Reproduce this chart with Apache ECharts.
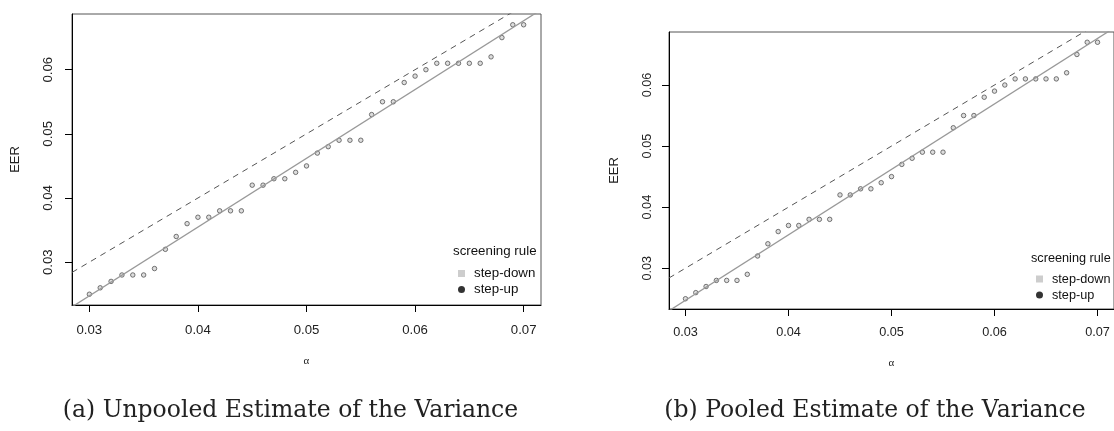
<!DOCTYPE html>
<html>
<head>
<meta charset="utf-8">
<script src="https://cdn.jsdelivr.net/npm/echarts@6/dist/echarts.min.js"></script>
<style>html,body{margin:0;padding:0;background:#fff;}#c{width:1114px;height:431px;}</style>
</head>
<body>
<div id="c"></div>
<script>
// ---- data ----
const alphaValues = [0.030,0.031,0.032,0.033,0.034,0.035,0.036,0.037,0.038,0.039,0.040,0.041,0.042,0.043,0.044,0.045,0.046,0.047,0.048,0.049,0.050,0.051,0.052,0.053,0.054,0.055,0.056,0.057,0.058,0.059,0.060,0.061,0.062,0.063,0.064,0.065,0.066,0.067,0.068,0.069,0.070];
const eerUnpooled = [0.025,0.026,0.027,0.028,0.028,0.028,0.029,0.032,0.034,0.036,0.037,0.037,0.038,0.038,0.038,0.042,0.042,0.043,0.043,0.044,0.045,0.047,0.048,0.049,0.049,0.049,0.053,0.055,0.055,0.058,0.059,0.060,0.061,0.061,0.061,0.061,0.061,0.062,0.065,0.067,0.067];
const eerPooled   = [0.025,0.026,0.027,0.028,0.028,0.028,0.029,0.032,0.034,0.036,0.037,0.037,0.038,0.038,0.038,0.042,0.042,0.043,0.043,0.044,0.045,0.047,0.048,0.049,0.049,0.049,0.053,0.055,0.055,0.058,0.059,0.060,0.061,0.061,0.061,0.061,0.061,0.062,0.065,0.067,0.067];
const fitLineX = [0.0284, 0.0716];
const fitLineY = [0.02303, 0.06934];
const refLineX = [0.0284, 0.0716];
const refLineY = [0.0284, 0.0716];
const xTicks = [0.03, 0.04, 0.05, 0.06, 0.07];
const yTicks = [0.03, 0.04, 0.05, 0.06];
const xRange = [0.0284, 0.0716];
const yRange = [0.02332, 0.06868];
const legendTitle = 'screening rule';
const legendNames = ['step-down', 'step-up'];
const captions = ['(a) Unpooled Estimate of the Variance', '(b) Pooled Estimate of the Variance'];
const xName = 'α';
const yName = 'EER';

// ---- build ----
const SANS = '"Liberation Sans", Arial, sans-serif';
const pts = ys => alphaValues.map((x, i) => [x, ys[i]]);
const pairs = (xs, ys) => xs.map((x, i) => [x, ys[i]]);

const panels = [
  {grid:{left:72, top:14, width:469, height:291}, tick:13.2, lab:13.3, xm:18.5, ym:17, yGap:50, xGap:51,
   leg:{left:453, top:260.5}, title:{x:453, y:252.7}, data:eerUnpooled},
  {grid:{left:669, top:32, width:446.5, height:277}, tick:12.7, lab:12.7, xm:17, ym:15.5, yGap:48, xGap:49,
   leg:{left:1031, top:266}, title:{x:1031, y:260}, data:eerPooled}
];

const grids = [], xAxes = [], yAxes = [], series = [], legends = [], graphics = [];
panels.forEach((p, k) => {
  grids.push(Object.assign({show:true, borderColor:'#555', borderWidth:1, backgroundColor:'transparent'}, p.grid));
  xAxes.push({type:'value', gridIndex:k, min:xRange[0], max:xRange[1],
    name:xName, nameLocation:'middle', nameGap:p.xGap,
    nameTextStyle:{fontFamily:'"Liberation Serif", serif', fontSize:11, color:'#222'},
    axisLine:{show:true, onZero:false, lineStyle:{color:'#000', width:1}},
    axisTick:{show:true, inside:false, length:7, customValues:xTicks, lineStyle:{color:'#000'}},
    axisLabel:{customValues:xTicks, margin:p.xm, fontFamily:SANS, fontSize:p.tick, color:'#222', formatter:v=>v.toFixed(2)},
    splitLine:{show:false}});
  yAxes.push({type:'value', gridIndex:k, min:yRange[0], max:yRange[1],
    name:yName, nameLocation:'middle', nameGap:p.yGap, nameRotate:90,
    nameTextStyle:{fontFamily:SANS, fontSize:13, color:'#222'},
    axisLine:{show:true, onZero:false, lineStyle:{color:'#000', width:1}},
    axisTick:{show:true, inside:false, length:7, customValues:yTicks, lineStyle:{color:'#000'}},
    axisLabel:{customValues:yTicks, rotate:90, margin:p.ym, fontFamily:SANS, fontSize:p.tick, color:'#222', formatter:v=>v.toFixed(2)},
    splitLine:{show:false}});
  series.push({type:'line', xAxisIndex:k, yAxisIndex:k, data:pairs(refLineX, refLineY), symbol:'none', clip:true, silent:true,
    lineStyle:{color:'#555', width:1, type:[6,5]}});
  series.push({type:'line', xAxisIndex:k, yAxisIndex:k, data:pairs(fitLineX, fitLineY), symbol:'none', clip:true, silent:true,
    lineStyle:{color:'#999', width:1.3}});
  series.push({type:'scatter', name:legendNames[1], xAxisIndex:k, yAxisIndex:k, data:pts(p.data), symbol:'circle', symbolSize:4.5,
    itemStyle:{color:'#d4d4d4', borderColor:'#444', borderWidth:0.9}});
  series.push({type:'scatter', name:legendNames[0], xAxisIndex:k, yAxisIndex:k, data:[], symbol:'rect', itemStyle:{color:'#c0c0c0'}});
  legends.push({orient:'vertical', left:p.leg.left, top:p.leg.top, itemWidth:7, itemHeight:7, itemGap:0, selectedMode:false,
    textStyle:{fontFamily:SANS, fontSize:p.lab, color:'#111', lineHeight:16, padding:[0,0,0,4]},
    data:[{name:legendNames[0], icon:'rect', itemStyle:{color:'#c0c0c0', borderWidth:0}},
          {name:legendNames[1], icon:'circle', itemStyle:{color:'#000', borderWidth:0}}]});
  graphics.push({type:'text', left:p.title.x, top:p.title.y - p.lab*0.6,
    style:{text:legendTitle, fontFamily:SANS, fontSize:p.lab, fill:'#111'}});
});
graphics.push({type:'text', x:290.5, y:411, style:{text:captions[0], fontFamily:'"DejaVu Serif", serif', fontSize:23.5, fill:'#222', align:'center', verticalAlign:'middle'}});
graphics.push({type:'text', x:875, y:411, style:{text:captions[1], fontFamily:'"DejaVu Serif", serif', fontSize:23.5, fill:'#222', align:'center', verticalAlign:'middle'}});

const chart = echarts.init(document.getElementById('c'), null, {renderer:'canvas'});
chart.setOption({animation:false, backgroundColor:'#fff', grid:grids, xAxis:xAxes, yAxis:yAxes, series:series, legend:legends, graphic:graphics});
</script>
</body>
</html>
